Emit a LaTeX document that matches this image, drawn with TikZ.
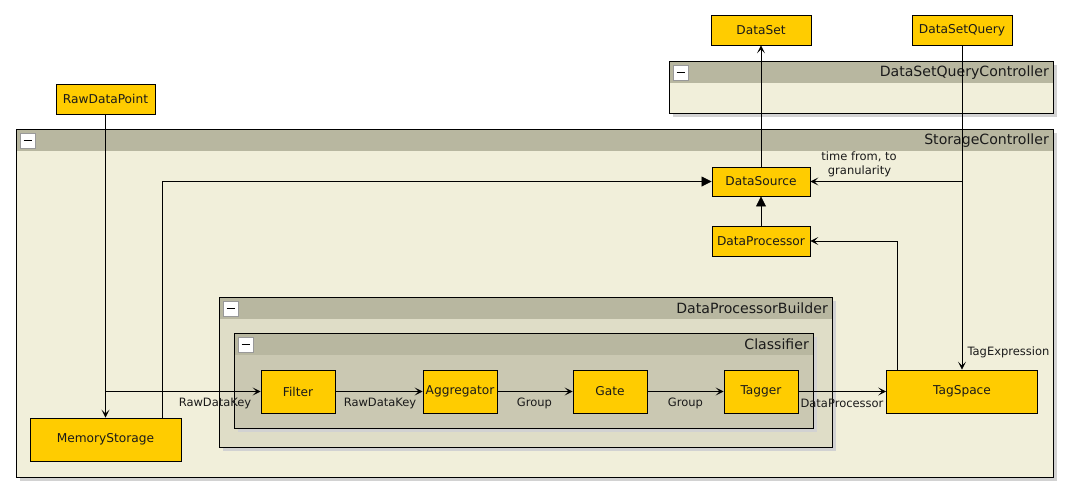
\documentclass[tikz,border=0pt]{standalone}
\usepackage{fontspec}
\setmainfont{DejaVu Sans}
\usetikzlibrary{arrows.meta}
\definecolor{ybox}{HTML}{FFCC00}
\definecolor{bodyA}{HTML}{F1EFDA}
\definecolor{bodyB}{HTML}{DFDDC7}
\definecolor{bodyC}{HTML}{CAC8B2}
\definecolor{hdr}{HTML}{B8B7A0}
\definecolor{shd}{HTML}{D2D2D2}
\definecolor{txt}{HTML}{1A1A1A}
\tikzset{
  cls/.style={draw=black, fill=ybox, line width=0.9pt, inner sep=0pt, text=txt,
    font=\fontsize{12.2}{14}\selectfont},
  lbl/.style={inner sep=0pt, text=txt, font=\fontsize{11.5}{13}\selectfont, align=center},
  grptitle/.style={inner sep=0pt, text=txt, font=\fontsize{14.1}{16}\selectfont, anchor=east},
  conn/.style={line width=0.8pt, -{Stealth[length=8pt,width=8pt,inset=4pt]}},
  tri/.style={line width=0.8pt, -{Triangle[length=10pt,width=10pt]}}
}
\newcommand\mkgroup[7]{%
  \fill[shd] (#2+4,#3+4) rectangle (#4+4,#5+4);
  \fill[#6] (#2,#3) rectangle (#4,#5);
  \fill[hdr] (#2,#3) rectangle (#4,#3+22);
  \draw[line width=0.9pt] (#2,#3) coordinate (#1-nw) rectangle (#4,#5) coordinate (#1-se);
  \node[grptitle] (#1-title) at (#4-4,#3+11.5) {#7};
  \draw[fill=white, draw=gray!80, line width=0.6pt] (#2+4,#3+4) rectangle (#2+19,#3+19);
  \draw[line width=1.8pt] (#2+7.5,#3+11.5) -- (#2+15.5,#3+11.5);
}
\begin{document}
\begin{tikzpicture}[x=1pt,y=-1pt]
\useasboundingbox (0,0) rectangle (1072,496);

% containers
\mkgroup{dsqc}{669}{61}{1053}{113}{bodyA}{DataSetQueryController}
\mkgroup{sc}{16}{129}{1053}{477}{bodyA}{StorageController}
\mkgroup{dpb}{219}{297}{832}{447}{bodyB}{DataProcessorBuilder}
\mkgroup{clf}{234}{333}{813}{428}{bodyC}{Classifier}

% nodes
\node[cls, minimum width=100pt, minimum height=30pt] (DataSet) at (761,30) {DataSet};
\node[cls, minimum width=100pt, minimum height=30pt] (DataSetQuery) at (962,30) {DataSetQuery};
\node[cls, minimum width=99pt, minimum height=30pt] (RawDataPoint) at (105.5,99) {RawDataPoint};
\node[cls, minimum width=98pt, minimum height=29pt] (DataSource) at (761,181.5) {DataSource};
\node[cls, minimum width=98pt, minimum height=30pt] (DataProcessor) at (761,241) {DataProcessor};
\node[cls, minimum width=74pt, minimum height=43pt] (Filter) at (298,391.5) {Filter};
\node[cls, minimum width=74pt, minimum height=43pt] (Aggregator) at (460,391.5) {Aggregator};
\node[cls, minimum width=74pt, minimum height=43pt] (Gate) at (610,391.5) {Gate};
\node[cls, minimum width=74pt, minimum height=43pt] (Tagger) at (761,391.5) {Tagger};
\node[cls, minimum width=151pt, minimum height=43pt] (TagSpace) at (962,391.5) {TagSpace};
\node[cls, minimum width=151pt, minimum height=43pt] (MemoryStorage) at (105.5,439.5) {MemoryStorage};

% junctions
\coordinate (j1) at (105.5,391.5);
\coordinate (q1) at (962,181.5);

% connectors
\draw[conn] (RawDataPoint.south) -- (MemoryStorage.north);
\draw[conn] (j1) -- (Filter.west);
\draw[tri] ([xshift=56.5pt]MemoryStorage.north) |- (DataSource.west);
\draw[tri] (DataProcessor.north) -- (DataSource.south);
\draw[conn] (DataSource.north) -- (DataSet.south);
\draw[conn] (DataSetQuery.south) -- (TagSpace.north);
\draw[conn] (q1) -- (DataSource.east);
\draw[conn] ([xshift=-65pt]TagSpace.north) |- (DataProcessor.east);
\draw[conn] (Filter.east) -- (Aggregator.west);
\draw[conn] (Aggregator.east) -- (Gate.west);
\draw[conn] (Gate.east) -- (Tagger.west);
\draw[conn] (Tagger.east) -- (TagSpace.west);

% labels
\node[lbl] (l1) at (215,403) {RawDataKey};
\node[lbl] (l2) at (380,403) {RawDataKey};
\node[lbl] (l3) at (534.5,403) {Group};
\node[lbl] (l4) at (685.5,403) {Group};
\node[lbl] (l5) at (842,403) {DataProcessor};
\node[lbl] (l6) at (1008.5,352) {TagExpression};
\node[lbl] (l7) at (859,157) {time from, to};
\node[lbl] (l8) at (859.5,171) {granularity};
\end{tikzpicture}
\end{document}
